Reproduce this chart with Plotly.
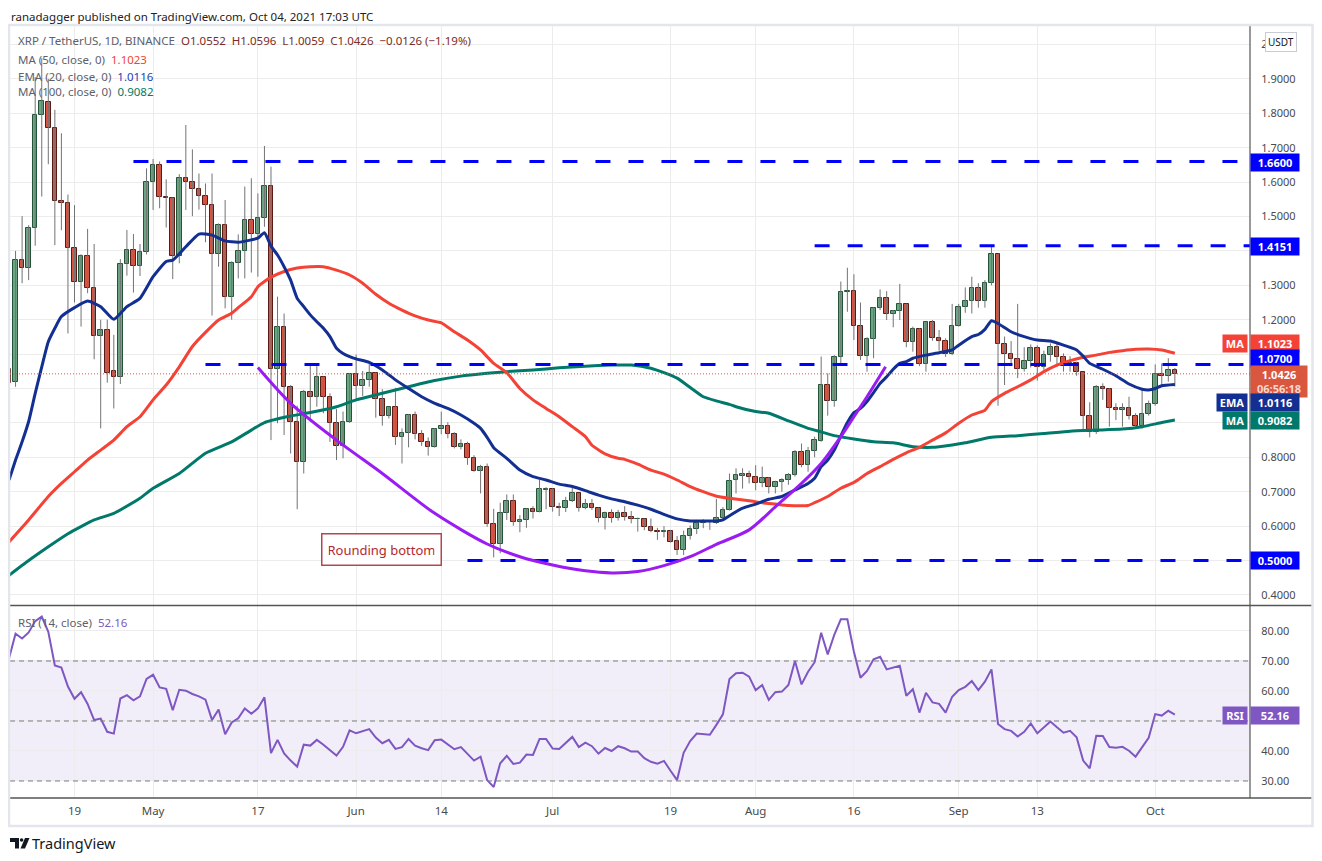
import pandas as pd
import plotly.graph_objects as go

# ---- daily candles XRP/USDT (Binance), Apr 9 .. Oct 4 2021 ----
dates = pd.date_range("2021-04-09", "2021-10-04", freq="D")

opens = [
    1.056, 1.018, 1.373, 1.349, 1.468, 1.795, 1.832, 1.756, 1.546, 1.538, 1.408, 1.309, 1.385, 1.291, 1.154, 1.170, 1.050, 1.034, 1.361, 1.402, 1.357, 1.396,
    1.599, 1.649, 1.558, 1.553, 1.386, 1.613, 1.601, 1.579, 1.560, 1.532, 1.390, 1.476, 1.267, 1.364, 1.399, 1.490, 1.448, 1.495, 1.589, 1.056, 1.178, 1.005, 0.904, 0.787, 0.991, 0.974, 1.032, 0.974, 0.899, 0.833, 0.904,
    1.041, 1.008, 1.025, 1.044, 0.969, 0.921, 0.945, 0.860, 0.872, 0.922, 0.867, 0.845, 0.831, 0.882, 0.891, 0.867, 0.831, 0.840, 0.797, 0.760, 0.773, 0.605, 0.547, 0.637, 0.672, 0.611, 0.618, 0.649, 0.642, 0.706,
    0.707, 0.656, 0.652, 0.672, 0.695, 0.652, 0.663, 0.652, 0.623, 0.637, 0.625, 0.637, 0.627, 0.620, 0.621, 0.596, 0.587, 0.582, 0.587, 0.557, 0.530, 0.571, 0.591, 0.610, 0.611, 0.608, 0.623, 0.647, 0.734, 0.747, 0.751,
    0.744, 0.724, 0.739, 0.713, 0.729, 0.734, 0.749, 0.816, 0.778, 0.818, 0.848, 1.010, 0.965, 1.091, 1.281, 1.283, 1.183, 1.095, 1.144, 1.233, 1.262, 1.216, 1.225, 1.245, 1.134, 1.173, 1.071, 1.192, 1.146, 1.139, 1.100,
    1.183, 1.236, 1.254, 1.291, 1.254, 1.306, 1.390, 1.128, 1.099, 1.085, 1.056, 1.080, 1.117, 1.063, 1.097, 1.120, 1.091, 1.065, 1.073, 1.047, 0.921, 0.873, 1.003, 1.000, 0.942, 0.937, 0.942, 0.921, 0.892, 0.926,
    0.955, 1.041, 1.036, 1.0552,
]
highs = [
    1.070, 1.400, 1.501, 1.475, 1.905, 1.960, 1.900, 1.810, 1.742, 1.564, 1.533, 1.390, 1.464, 1.420, 1.200, 1.200, 1.156, 1.376, 1.461, 1.449, 1.420, 1.640,
    1.667, 1.660, 1.608, 1.556, 1.623, 1.766, 1.695, 1.625, 1.596, 1.625, 1.480, 1.548, 1.370, 1.448, 1.587, 1.611, 1.567, 1.705, 1.645, 1.267, 1.218, 1.010, 0.950, 0.996, 1.071, 1.071, 1.035, 0.986, 0.940, 0.933, 1.045,
    1.099, 1.051, 1.080, 1.047, 0.998, 0.947, 1.002, 0.884, 0.925, 0.933, 0.879, 0.858, 0.885, 0.933, 0.902, 0.873, 0.852, 0.845, 0.806, 0.778, 0.782, 0.650, 0.668, 0.692, 0.692, 0.632, 0.652, 0.658, 0.734, 0.713,
    0.710, 0.668, 0.685, 0.711, 0.697, 0.679, 0.679, 0.654, 0.642, 0.649, 0.647, 0.658, 0.644, 0.625, 0.623, 0.622, 0.595, 0.600, 0.589, 0.571, 0.587, 0.602, 0.618, 0.620, 0.617, 0.679, 0.655, 0.753, 0.768, 0.768, 0.761,
    0.777, 0.773, 0.743, 0.732, 0.739, 0.754, 0.821, 0.840, 0.830, 0.860, 1.093, 1.044, 1.097, 1.311, 1.351, 1.332, 1.250, 1.149, 1.236, 1.288, 1.283, 1.228, 1.304, 1.247, 1.180, 1.175, 1.195, 1.199, 1.170, 1.146, 1.246,
    1.246, 1.294, 1.325, 1.306, 1.315, 1.417, 1.392, 1.151, 1.138, 1.246, 1.120, 1.128, 1.126, 1.110, 1.131, 1.130, 1.102, 1.094, 1.078, 1.049, 0.960, 1.010, 1.015, 1.001, 0.957, 0.957, 0.976, 0.928, 0.996, 0.965,
    1.070, 1.073, 1.088, 1.0596,
]
lows = [
    1.005, 1.005, 1.306, 1.315, 1.415, 1.558, 1.652, 1.417, 1.460, 1.160, 1.250, 1.180, 1.277, 1.085, 0.884, 1.017, 0.942, 1.013, 1.328, 1.279, 1.327, 1.390,
    1.519, 1.524, 1.468, 1.318, 1.364, 1.519, 1.501, 1.520, 1.425, 1.212, 1.354, 1.233, 1.200, 1.320, 1.320, 1.337, 1.325, 1.470, 0.850, 0.899, 0.865, 0.811, 0.649, 0.753, 0.904, 0.947, 0.928, 0.845, 0.792, 0.797, 0.900,
    0.971, 0.978, 1.005, 0.915, 0.892, 0.913, 0.836, 0.782, 0.829, 0.852, 0.833, 0.805, 0.828, 0.867, 0.855, 0.826, 0.823, 0.778, 0.758, 0.695, 0.598, 0.509, 0.521, 0.618, 0.601, 0.582, 0.595, 0.622, 0.640, 0.649,
    0.642, 0.629, 0.641, 0.670, 0.642, 0.649, 0.647, 0.611, 0.590, 0.610, 0.616, 0.616, 0.608, 0.584, 0.588, 0.582, 0.560, 0.567, 0.552, 0.516, 0.516, 0.561, 0.577, 0.594, 0.589, 0.606, 0.617, 0.645, 0.695, 0.709, 0.724,
    0.704, 0.713, 0.695, 0.695, 0.700, 0.720, 0.744, 0.771, 0.758, 0.800, 0.845, 0.921, 0.947, 1.068, 1.223, 1.141, 1.083, 1.049, 1.088, 1.228, 1.199, 1.178, 1.199, 1.120, 1.107, 1.065, 1.049, 1.139, 1.110, 1.092, 1.097,
    1.180, 1.220, 1.218, 1.235, 1.235, 1.300, 0.950, 1.010, 1.065, 1.030, 1.049, 1.061, 1.023, 1.054, 1.078, 1.063, 1.049, 1.049, 1.037, 0.874, 0.858, 0.868, 0.967, 0.889, 0.908, 0.889, 0.910, 0.889, 0.884, 0.921,
    0.950, 1.007, 1.020, 1.0059,
]
closes = [
    1.017, 1.373, 1.349, 1.468, 1.795, 1.835, 1.756, 1.546, 1.538, 1.408, 1.309, 1.385, 1.291, 1.154, 1.170, 1.046, 1.034, 1.361, 1.402, 1.357, 1.396, 1.599,
    1.649, 1.558, 1.553, 1.386, 1.611, 1.601, 1.579, 1.560, 1.532, 1.390, 1.476, 1.267, 1.364, 1.399, 1.490, 1.448, 1.495, 1.589, 1.056, 1.178, 1.005, 0.904, 0.787, 0.991, 0.974, 1.032, 0.974, 0.899, 0.833, 0.904, 1.041,
    1.008, 1.025, 1.044, 0.969, 0.921, 0.945, 0.860, 0.872, 0.922, 0.867, 0.845, 0.831, 0.882, 0.891, 0.867, 0.831, 0.840, 0.797, 0.760, 0.773, 0.605, 0.547, 0.637, 0.672, 0.611, 0.618, 0.649, 0.642, 0.707, 0.708,
    0.656, 0.652, 0.672, 0.695, 0.652, 0.663, 0.652, 0.623, 0.637, 0.625, 0.637, 0.627, 0.620, 0.622, 0.596, 0.587, 0.582, 0.587, 0.555, 0.530, 0.571, 0.591, 0.610, 0.613, 0.614, 0.623, 0.647, 0.732, 0.749, 0.751, 0.744,
    0.724, 0.739, 0.713, 0.729, 0.734, 0.749, 0.816, 0.778, 0.818, 0.850, 1.010, 0.965, 1.091, 1.281, 1.283, 1.183, 1.095, 1.144, 1.233, 1.262, 1.216, 1.225, 1.245, 1.134, 1.173, 1.071, 1.192, 1.146, 1.139, 1.100, 1.183,
    1.236, 1.254, 1.291, 1.254, 1.306, 1.390, 1.128, 1.099, 1.085, 1.056, 1.080, 1.117, 1.063, 1.097, 1.120, 1.091, 1.065, 1.073, 1.047, 0.921, 0.873, 1.003, 0.998, 0.942, 0.937, 0.942, 0.921, 0.892, 0.926, 0.955,
    1.041, 1.036, 1.0552, 1.0426,
]

rsi = [
    70.9, 79.1, 77.5, 79.5, 83.3, 84.8, 79.7, 68.5, 67.8, 61.5, 57.4, 59.6, 55.7, 50.3, 50.8, 46.4, 45.8, 57.5, 58.6, 56.9, 58.2, 64.0,
    65.4, 61.2, 60.7, 53.6, 60.4, 60.1, 59.0, 58.2, 57.1, 50.3, 53.8, 45.6, 49.5, 50.9, 54.2, 52.4, 54.2, 57.9, 39.3, 43.7, 39.2, 36.8, 34.8, 42.1, 41.8, 43.7, 42.1, 40.3, 38.5, 41.4, 46.9,
    45.9, 46.5, 47.3, 44.5, 42.6, 43.7, 40.7, 41.3, 44.0, 41.8, 40.9, 40.3, 43.6, 43.8, 42.2, 40.6, 41.3, 38.9, 36.8, 38.1, 30.3, 28.0, 35.9, 38.4, 35.7, 36.1, 38.8, 38.7, 44.0, 44.0,
    40.8, 40.7, 42.7, 44.7, 41.3, 42.8, 41.6, 39.1, 41.0, 40.0, 41.6, 40.9, 39.8, 39.8, 37.6, 36.4, 35.8, 36.7, 33.4, 30.3, 39.4, 43.3, 45.8, 45.7, 45.4, 48.7, 52.2, 64.0, 65.9, 66.1, 64.8,
    60.3, 62.0, 57.0, 59.6, 59.8, 62.0, 70.0, 62.2, 66.4, 69.6, 79.4, 72.2, 78.7, 83.9, 83.9, 73.1, 64.4, 66.7, 70.6, 71.4, 67.2, 67.7, 68.4, 58.4, 60.6, 52.8, 59.4, 56.2, 55.7, 52.8, 58.1,
    60.3, 61.4, 63.3, 60.3, 63.1, 67.2, 49.0, 47.3, 46.7, 44.8, 46.4, 49.2, 45.9, 47.9, 49.8, 47.9, 46.1, 46.7, 44.6, 36.8, 34.2, 45.1, 45.0, 41.3, 41.1, 41.4, 40.1, 38.1, 41.4, 44.4,
    52.3, 51.8, 53.4, 52.16,
]

# moving averages at sample dates
ema20_dates = ["2021-04-09", "2021-04-10", "2021-04-11", "2021-04-12", "2021-04-13", "2021-04-14", "2021-04-15", "2021-04-16", "2021-04-17", "2021-04-19",
               "2021-04-21", "2021-04-23", "2021-04-25", "2021-04-27", "2021-04-29", "2021-05-01", "2021-05-03", "2021-05-04", "2021-05-06", "2021-05-08",
               "2021-05-10", "2021-05-12", "2021-05-14", "2021-05-16", "2021-05-17", "2021-05-18", "2021-05-19", "2021-05-20", "2021-05-21", "2021-05-22",
               "2021-05-23", "2021-05-24", "2021-05-25", "2021-05-26", "2021-05-27", "2021-05-28", "2021-05-29", "2021-05-30", "2021-05-31", "2021-06-01",
               "2021-06-03", "2021-06-05", "2021-06-07", "2021-06-09", "2021-06-11", "2021-06-13", "2021-06-15", "2021-06-17", "2021-06-19", "2021-06-20",
               "2021-06-21", "2021-06-22", "2021-06-24", "2021-06-26", "2021-06-28", "2021-06-30", "2021-07-02", "2021-07-04", "2021-07-06", "2021-07-08",
               "2021-07-10", "2021-07-12", "2021-07-14", "2021-07-16", "2021-07-18", "2021-07-20", "2021-07-22", "2021-07-24", "2021-07-26", "2021-07-27",
               "2021-07-28", "2021-07-30", "2021-08-01", "2021-08-03", "2021-08-05", "2021-08-07", "2021-08-09", "2021-08-10", "2021-08-11", "2021-08-12",
               "2021-08-13", "2021-08-14", "2021-08-15", "2021-08-16", "2021-08-17", "2021-08-18", "2021-08-19", "2021-08-20", "2021-08-21", "2021-08-22",
               "2021-08-23", "2021-08-24", "2021-08-25", "2021-08-27", "2021-08-29", "2021-08-31", "2021-09-01", "2021-09-03", "2021-09-04", "2021-09-05",
               "2021-09-06", "2021-09-07", "2021-09-09", "2021-09-11", "2021-09-13", "2021-09-15", "2021-09-17", "2021-09-19", "2021-09-20", "2021-09-21",
               "2021-09-23", "2021-09-25", "2021-09-27", "2021-09-29", "2021-09-30", "2021-10-01", "2021-10-02", "2021-10-04"]
ema20_vals = [0.734, 0.792, 0.845, 0.904, 0.986, 1.063, 1.136, 1.175, 1.209, 1.235,
              1.254, 1.238, 1.201, 1.238, 1.262, 1.325, 1.369, 1.373, 1.412, 1.449,
              1.446, 1.429, 1.425, 1.432, 1.437, 1.453, 1.414, 1.388, 1.354, 1.315,
              1.262, 1.238, 1.214, 1.194, 1.175, 1.151, 1.117, 1.102, 1.093, 1.086,
              1.076, 1.054, 1.025, 1.000, 0.976, 0.957, 0.942, 0.923, 0.899, 0.884,
              0.858, 0.828, 0.797, 0.763, 0.744, 0.734, 0.722, 0.715, 0.703, 0.690,
              0.679, 0.671, 0.661, 0.649, 0.634, 0.621, 0.615, 0.615, 0.615, 0.618,
              0.630, 0.652, 0.664, 0.678, 0.686, 0.705, 0.724, 0.739, 0.773, 0.792,
              0.821, 0.862, 0.901, 0.930, 0.942, 0.962, 0.988, 1.015, 1.034, 1.056,
              1.073, 1.078, 1.088, 1.097, 1.104, 1.112, 1.126, 1.151, 1.157, 1.172,
              1.197, 1.189, 1.165, 1.151, 1.141, 1.138, 1.126, 1.112, 1.094, 1.073,
              1.056, 1.037, 1.013, 0.998, 0.996, 1.000, 1.008, 1.0116]

ma50_dates = ["2021-04-09", "2021-04-12", "2021-04-15", "2021-04-17", "2021-04-19", "2021-04-21", "2021-04-23", "2021-04-25", "2021-04-27", "2021-04-29",
              "2021-05-01", "2021-05-03", "2021-05-05", "2021-05-07", "2021-05-09", "2021-05-11", "2021-05-13", "2021-05-14", "2021-05-16", "2021-05-17",
              "2021-05-18", "2021-05-19", "2021-05-21", "2021-05-23", "2021-05-25", "2021-05-27", "2021-05-29", "2021-05-31", "2021-06-02", "2021-06-04",
              "2021-06-06", "2021-06-08", "2021-06-10", "2021-06-12", "2021-06-14", "2021-06-16", "2021-06-18", "2021-06-20", "2021-06-22", "2021-06-24",
              "2021-06-26", "2021-06-28", "2021-06-30", "2021-07-02", "2021-07-04", "2021-07-06", "2021-07-07", "2021-07-09", "2021-07-11", "2021-07-12",
              "2021-07-14", "2021-07-16", "2021-07-18", "2021-07-20", "2021-07-22", "2021-07-24", "2021-07-26", "2021-07-28", "2021-07-31", "2021-08-02",
              "2021-08-04", "2021-08-06", "2021-08-08", "2021-08-09", "2021-08-10", "2021-08-12", "2021-08-14", "2021-08-16", "2021-08-18", "2021-08-20",
              "2021-08-22", "2021-08-24", "2021-08-26", "2021-08-28", "2021-08-30", "2021-09-01", "2021-09-03", "2021-09-05", "2021-09-06", "2021-09-08",
              "2021-09-10", "2021-09-12", "2021-09-14", "2021-09-16", "2021-09-18", "2021-09-20", "2021-09-22", "2021-09-24", "2021-09-26", "2021-09-28",
              "2021-09-30", "2021-10-02", "2021-10-04"]
ma50_vals = [0.554, 0.618, 0.686, 0.724, 0.758, 0.792, 0.821, 0.850, 0.889, 0.918,
             0.967, 1.010, 1.063, 1.122, 1.163, 1.199, 1.219, 1.235, 1.267, 1.296,
             1.311, 1.323, 1.340, 1.350, 1.354, 1.354, 1.344, 1.330, 1.306, 1.274,
             1.248, 1.228, 1.211, 1.199, 1.191, 1.165, 1.141, 1.112, 1.073, 1.046,
             1.000, 0.967, 0.942, 0.918, 0.889, 0.860, 0.835, 0.810, 0.797, 0.794,
             0.780, 0.763, 0.751, 0.734, 0.715, 0.700, 0.687, 0.681, 0.674, 0.668,
             0.664, 0.660, 0.659, 0.660, 0.668, 0.686, 0.710, 0.727, 0.753, 0.773,
             0.794, 0.813, 0.829, 0.850, 0.871, 0.899, 0.923, 0.937, 0.962, 0.986,
             1.005, 1.025, 1.049, 1.068, 1.081, 1.091, 1.097, 1.105, 1.110, 1.114,
             1.115, 1.112, 1.1023]

ma100_dates = ["2021-04-09", "2021-04-12", "2021-04-15", "2021-04-18", "2021-04-22", "2021-04-25", "2021-04-29", "2021-05-01", "2021-05-05", "2021-05-09",
               "2021-05-13", "2021-05-16", "2021-05-18", "2021-05-22", "2021-05-25", "2021-05-29", "2021-06-01", "2021-06-05", "2021-06-09", "2021-06-13",
               "2021-06-17", "2021-06-21", "2021-06-24", "2021-06-28", "2021-07-02", "2021-07-06", "2021-07-10", "2021-07-13", "2021-07-16", "2021-07-18",
               "2021-07-20", "2021-07-22", "2021-07-24", "2021-07-26", "2021-07-28", "2021-07-29", "2021-08-01", "2021-08-03", "2021-08-06", "2021-08-09",
               "2021-08-11", "2021-08-13", "2021-08-16", "2021-08-19", "2021-08-22", "2021-08-25", "2021-08-28", "2021-08-31", "2021-09-02", "2021-09-06",
               "2021-09-10", "2021-09-14", "2021-09-18", "2021-09-22", "2021-09-26", "2021-09-29", "2021-10-02", "2021-10-04"]
ma100_vals = [0.457, 0.500, 0.540, 0.578, 0.618, 0.637, 0.681, 0.710, 0.753, 0.812,
              0.845, 0.879, 0.901, 0.920, 0.930, 0.947, 0.967, 0.986, 1.005, 1.023,
              1.036, 1.044, 1.049, 1.054, 1.060, 1.065, 1.068, 1.068, 1.059, 1.046,
              1.030, 1.003, 0.976, 0.964, 0.954, 0.947, 0.933, 0.928, 0.906, 0.884,
              0.874, 0.863, 0.853, 0.845, 0.842, 0.831, 0.829, 0.836, 0.842, 0.858,
              0.863, 0.869, 0.876, 0.879, 0.882, 0.889, 0.901, 0.9082]

# drawings: horizontal levels and the "rounding bottom" arc
level_vals = [1.66, 1.4151, 1.07, 0.50]
level_starts = ["2021-04-28", "2021-08-10", "2021-05-09", "2021-06-18"]
arc_dates = ["2021-05-17", "2021-05-22", "2021-05-29", "2021-06-05", "2021-06-13", "2021-06-21", "2021-06-26", "2021-07-01",
             "2021-07-06", "2021-07-10", "2021-07-14", "2021-07-18", "2021-07-22", "2021-07-26", "2021-07-31", "2021-08-04",
             "2021-08-08", "2021-08-11", "2021-08-14", "2021-08-16", "2021-08-18", "2021-08-20 20:00"]
arc_vals = [1.061, 0.957, 0.850, 0.753, 0.637, 0.548, 0.511, 0.487,
            0.470, 0.464, 0.468, 0.485, 0.511, 0.547, 0.589, 0.656,
            0.724, 0.782, 0.860, 0.918, 0.976, 1.063]

tick_dates = ["2021-04-19", "2021-05-01", "2021-05-17", "2021-06-01", "2021-06-14", "2021-07-01",
              "2021-07-19", "2021-08-01", "2021-08-16", "2021-09-01", "2021-09-13", "2021-10-01"]
tick_text = ["19", "May", "17", "Jun", "14", "Jul", "19", "Aug", "16", "Sep", "13", "Oct"]

# price scale: ticks hidden behind the badges get no text
price_ticks = [round(0.4 + 0.1 * i, 1) for i in range(17)]
hidden_ticks = {0.5, 0.9, 1.0, 1.1, 1.4}
price_text = ["" if v in hidden_ticks else ("2" if v == 2.0 else f"{v:.4f}") for v in price_ticks]
rsi_ticks = [30, 40, 50, 60, 70, 80]
rsi_text = ["" if v == 50 else f"{v:.2f}" for v in rsi_ticks]

X_RANGE = ["2021-04-09 03:40", "2021-10-15 11:20"]
UP, UP_LINE, DN, DN_LINE, WICK = "#6ba583", "#225437", "#d75442", "#5b1a13", "#737375"
C_MA50, C_EMA, C_MA100, C_RSI, C_LVL = "#f44336", "#132f91", "#00796b", "#7e57c2", "#0000ff"
FONT = "Noto Sans"

# the page body has an 8px margin: plot area sits at page x 10..1250, y 26..798
def px(x):
    return (x - 10) / 1240.0

def py(y):
    return (798 - y) / 772.0

fig = go.Figure()

# ---- candles: wicks then bodies ----
wx, wy = [], []
for d, lo, hi in zip(dates, lows, highs):
    wx += [d, d, None]
    wy += [lo, hi, None]
fig.add_trace(go.Scatter(x=wx, y=wy, mode="lines", line=dict(color=WICK, width=1),
                         hoverinfo="skip", xaxis="x", yaxis="y"))

up = [c >= o for o, c in zip(opens, closes)]
fig.add_trace(go.Bar(
    x=dates, base=[min(o, c) for o, c in zip(opens, closes)],
    y=[max(abs(c - o), 0.002) for o, c in zip(opens, closes)],
    width=0.7 * 86400000,
    marker=dict(color=[UP if u else DN for u in up],
                line=dict(color=[UP_LINE if u else DN_LINE for u in up], width=1)),
    hoverinfo="skip", xaxis="x", yaxis="y"))

# ---- moving averages ----
for xs, ys, col in [(ma100_dates, ma100_vals, C_MA100), (ma50_dates, ma50_vals, C_MA50),
                    (ema20_dates, ema20_vals, C_EMA)]:
    fig.add_trace(go.Scatter(x=xs, y=ys, mode="lines", line=dict(color=col, width=3, shape="spline", smoothing=0.5),
                             hoverinfo="skip", xaxis="x", yaxis="y"))

# last price dotted line
fig.add_trace(go.Scatter(x=X_RANGE, y=[closes[-1]] * 2, mode="lines",
                         line=dict(color="#e0533f", width=1, dash="1px,2px"),
                         hoverinfo="skip", xaxis="x", yaxis="y"))

# ---- horizontal levels ----
for lv, st in zip(level_vals, level_starts):
    fig.add_trace(go.Scatter(x=[st, X_RANGE[1]], y=[lv, lv], mode="lines",
                             line=dict(color=C_LVL, width=3, dash="15px,18px"),
                             hoverinfo="skip", xaxis="x", yaxis="y"))

# ---- rounding bottom arc ----
fig.add_trace(go.Scatter(x=arc_dates, y=arc_vals, mode="lines",
                         line=dict(color="#9a1cf2", width=3, shape="spline", smoothing=0.8),
                         hoverinfo="skip", xaxis="x", yaxis="y"))

# ---- RSI ----
fig.add_trace(go.Scatter(x=dates, y=rsi, mode="lines", line=dict(color=C_RSI, width=2),
                         hoverinfo="skip", xaxis="x", yaxis="y2"))

shapes = [
    dict(type="rect", xref="paper", yref="y2", x0=0, x1=1, y0=30, y1=70,
         fillcolor="rgba(126,87,194,0.10)", line=dict(width=0), layer="below"),
]
for lv in [30, 50, 70]:
    shapes.append(dict(type="line", xref="paper", yref="y2", x0=0, x1=1, y0=lv, y1=lv,
                       line=dict(color="#787b86", width=1, dash="5px,4px")))
# pane separator, bottom axis, right axis, outer frame
shapes += [
    dict(type="line", xref="paper", yref="paper", x0=0, x1=px(1312), y0=py(605.5), y1=py(605.5),
         line=dict(color="#555555", width=1.5)),
    dict(type="line", xref="paper", yref="paper", x0=0, x1=px(1312), y0=0, y1=0,
         line=dict(color="#555555", width=1.5)),
    dict(type="line", xref="paper", yref="paper", x0=1, x1=1, y0=0, y1=1,
         line=dict(color="#555555", width=1.2)),
    dict(type="rect", xref="paper", yref="paper", x0=px(9), x1=px(1312.5), y0=py(826), y1=py(25),
         line=dict(color="#e3e6ec", width=2.5)),
    # TradingView logo
    dict(type="rect", xref="paper", yref="paper", x0=px(10), x1=px(19), y0=py(842), y1=py(838),
         fillcolor="#131722", line=dict(width=0)),
    dict(type="rect", xref="paper", yref="paper", x0=px(15), x1=px(19), y0=py(848.5), y1=py(838),
         fillcolor="#131722", line=dict(width=0)),
    dict(type="circle", xref="paper", yref="paper", x0=px(19.8), x1=px(23.4), y0=py(841.8), y1=py(838.2),
         fillcolor="#131722", line=dict(width=0)),
    dict(type="path", xref="paper", yref="paper",
         path=f"M {px(25)} {py(838)} L {px(29.5)} {py(838)} L {px(25)} {py(848.5)} L {px(20.5)} {py(848.5)} Z",
         fillcolor="#131722", line=dict(width=0)),
]

ann = []
def text(x, y, s, size=12, color="#131722", xanchor="left", **kw):
    ann.append(dict(xref="paper", yref="paper", x=px(x), y=py(y), text=s, showarrow=False,
                    xanchor=xanchor, yanchor="middle", font=dict(family=FONT, size=size, color=color), **kw))

GRAY, OHLC = "#5d606b", "#7b2c26"
text(10, 16.5, "ranadagger published on TradingView.com, Oct 04, 2021 17:03 UTC", size=11.5, color="#222", borderpad=0)
text(16, 41, f"XRP / TetherUS, 1D, BINANCE  <span style='color:{OHLC}'>O{opens[-1]:.4f}  H{highs[-1]:.4f}  "
             f"L{lows[-1]:.4f}  C{closes[-1]:.4f}  −0.0126 (−1.19%)</span>", size=11.5, color=GRAY)
text(16, 59, f"MA (50, close, 0)  <span style='color:{C_MA50}'>{ma50_vals[-1]:.4f}</span>", size=11.5, color=GRAY)
text(16, 76, f"EMA (20, close, 0)  <span style='color:#2541b2'>{ema20_vals[-1]:.4f}</span>", size=11.5, color=GRAY)
text(16, 92, f"MA (100, close, 0)  <span style='color:{C_MA100}'>{ma100_vals[-1]:.4f}</span>", size=11.5, color=GRAY)
text(16, 622, f"RSI (14, close)  <span style='color:{C_RSI}'>{rsi[-1]:.2f}</span>", size=11.5, color=GRAY)
text(30, 843, "TradingView", size=14.5, color="#131722")

# "Rounding bottom" label
ann.append(dict(xref="x", yref="y", x="2021-06-04 22:00", y=0.532, text="Rounding bottom", showarrow=False,
                font=dict(family=FONT, size=13, color="#b3282d"), bgcolor="rgba(255,255,255,0.9)",
                bordercolor="#b5474a", borderwidth=1.5, borderpad=6, width=106, height=18))

# price-scale badges (value, pixel y, colour)
def badge(y, s, bg, w=44, h=13):
    text(1250, y, f"<b>{s}</b>", size=11, color="white", bgcolor=bg, borderpad=2, width=w, height=h, align="center")

def tag(y, s, bg, w):
    text(1248, y, f"<b>{s}</b>", size=11, color="white", xanchor="right", bgcolor=bg, borderpad=2, width=w, height=13, align="center")

badge(163, f"{level_vals[0]:.4f}", C_LVL)
badge(246.5, f"{level_vals[1]:.4f}", C_LVL)
badge(343.5, f"{ma50_vals[-1]:.4f}", C_MA50)
badge(358, f"{level_vals[2]:.4f}", C_LVL)
badge(381, f"{closes[-1]:.4f}<br><span style='color:#f8d7d1'>06:56:18</span>", "#d9563f", w=52, h=27)
badge(402.5, f"{ema20_vals[-1]:.4f}", C_EMA)
badge(420, f"{ma100_vals[-1]:.4f}", C_MA100)
badge(560.5, f"{level_vals[3]:.4f}", C_LVL)
badge(715, f"{rsi[-1]:.2f}", C_RSI)
tag(343.5, "MA", C_MA50, 20)
tag(402.5, "EMA", C_EMA, 26)
tag(420, "MA", C_MA100, 20)
tag(715, "RSI", C_RSI, 20)
text(1281, 42, "USDT", size=10, color="#131722", xanchor="center", bgcolor="white",
     bordercolor="#c9ccd4", borderwidth=1, borderpad=2)

fig.update_layout(
    width=1306, height=845,
    margin=dict(l=2, r=64, t=18, b=55),
    paper_bgcolor="white", plot_bgcolor="white",
    showlegend=False, barmode="overlay", bargap=0,
    font=dict(family=FONT, size=11, color="#4a4a4a"),
    xaxis=dict(type="date", range=X_RANGE, anchor="y2", tickvals=tick_dates, ticktext=tick_text,
               showgrid=True, gridcolor="#ececec", gridwidth=1, showline=False, zeroline=False,
               ticks="outside", ticklen=2, tickcolor="rgba(0,0,0,0)", tickfont=dict(size=11.5, color="#4a4a4a"),
               fixedrange=True),
    yaxis=dict(domain=[py(605), 1], range=[0.37064, 2.05378], side="right",
               tickvals=price_ticks, ticktext=price_text,
               showgrid=True, gridcolor="#ececec", zeroline=False, showline=False,
               ticks="outside", ticklen=8, tickcolor="rgba(0,0,0,0)", tickfont=dict(size=11, color="#4a4a4a")),
    yaxis2=dict(domain=[0, py(606)], range=[24.33, 88.33], side="right",
                tickvals=rsi_ticks, ticktext=rsi_text,
                showgrid=True, gridcolor="#ececec", zeroline=False, showline=False,
                ticks="outside", ticklen=8, tickcolor="rgba(0,0,0,0)", tickfont=dict(size=11, color="#4a4a4a")),
    shapes=shapes,
    annotations=ann,
)

fig.write_html("out.html")
